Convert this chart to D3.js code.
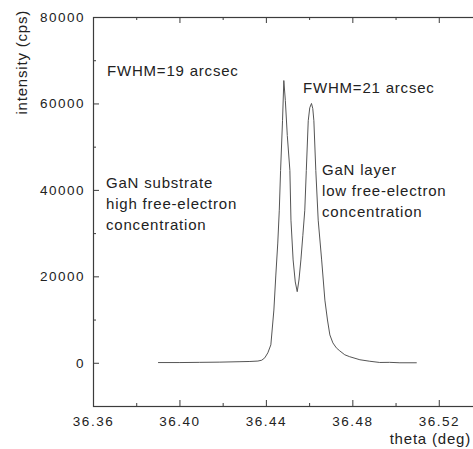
<!DOCTYPE html>
<html>
<head>
<meta charset="utf-8">
<script src="https://cdn.jsdelivr.net/npm/d3@7"></script>
<style>
  body { margin: 0; background: #fff; }
  text { font-family: Arial, "Liberation Sans", sans-serif; fill: #222; }
</style>
</head>
<body>
<div id="chart"></div>
<script>
// rocking curve
const theta = [36.3901, 36.4002, 36.4094, 36.4187, 36.4280, 36.4326, 36.4363, 36.4381, 36.4395, 36.4409,
  36.4423, 36.4437, 36.4446, 36.4455, 36.4462, 36.4468, 36.4477, 36.4483, 36.4490, 36.4499,
  36.4511, 36.4516, 36.4526, 36.4536, 36.4545, 36.4553, 36.4562, 36.4571, 36.4580, 36.4587,
  36.4596, 36.4603, 36.4611, 36.4617, 36.4622, 36.4631, 36.4642, 36.4658, 36.4673, 36.4685,
  36.4696, 36.4710, 36.4726, 36.4742, 36.4765, 36.4788, 36.4835, 36.4881, 36.4927, 36.4973,
  36.5020, 36.5098]
const intensity = [50, 50, 100, 150, 250, 300, 400, 600, 1150, 2300,
  4150, 12200, 20300, 27700, 35300, 44500, 56000, 65300, 60700, 52600,
  44500, 33000, 23800, 18700, 16450, 19150, 23800, 29500, 35300, 44500,
  56000, 59000, 60000, 58800, 56000, 44500, 33000, 23800, 14500, 9900,
  6450, 4600, 3450, 2750, 1850, 1400, 700, 350, 70, 100,
  0, 0]

const xMajor = [36.36, 36.40, 36.44, 36.48, 36.52]
const xMinor = [36.38, 36.42, 36.46, 36.50]
const yMajor = [0, 20000, 40000, 60000, 80000]
const yMinor = [10000, 30000, 50000, 70000]

const notes = [
  {lines: ['FWHM=19 arcsec'], x: 107, y: 76},
  {lines: ['FWHM=21 arcsec'], x: 303, y: 93},
  {lines: ['GaN substrate', 'high free-electron', 'concentration'], x: 106, y: 188},
  {lines: ['GaN layer', 'low free-electron', 'concentration'], x: 322, y: 175}
]

const W = 473, H = 449
const mLeft = 93, mTop = 17, mRight = 482, mBottom = 406
const axisColor = '#3c3c3c'

const svg = d3.select('#chart').append('svg')
  .attr('width', W)
  .attr('height', H)

const x = d3.scaleLinear().domain([36.36, 36.54]).range([mLeft, mRight])
const y = d3.scaleLinear().domain([-10000, 80000]).range([mBottom, mTop])

function styleAxis(g) {
  g.select('.domain').remove()
  g.selectAll('line').attr('stroke', axisColor)
  g.selectAll('text')
    .attr('font-size', '13.5px')
    .attr('letter-spacing', '1.5px')
    .attr('fill', '#222')
    .attr('font-family', 'Arial, "Liberation Sans", sans-serif')
}

// bottom axis (ticks pointing in)
svg.append('g')
  .attr('transform', `translate(0,${mBottom})`)
  .call(d3.axisBottom(x).tickValues(xMajor).tickFormat(d3.format('.2f')).tickSize(-6).tickPadding(10))
  .call(styleAxis)
svg.append('g')
  .attr('transform', `translate(0,${mBottom})`)
  .call(d3.axisBottom(x).tickValues(xMinor).tickFormat('').tickSize(-3))
  .call(styleAxis)

// top axis mirror
svg.append('g')
  .attr('transform', `translate(0,${mTop})`)
  .call(d3.axisTop(x).tickValues(xMajor).tickFormat('').tickSize(-6))
  .call(styleAxis)
svg.append('g')
  .attr('transform', `translate(0,${mTop})`)
  .call(d3.axisTop(x).tickValues(xMinor).tickFormat('').tickSize(-3))
  .call(styleAxis)

// left axis
svg.append('g')
  .attr('transform', `translate(${mLeft},0)`)
  .call(d3.axisLeft(y).tickValues(yMajor).tickFormat(d3.format('d')).tickSize(-6).tickPadding(8))
  .call(styleAxis)
svg.append('g')
  .attr('transform', `translate(${mLeft},0)`)
  .call(d3.axisLeft(y).tickValues(yMinor).tickFormat('').tickSize(-3))
  .call(styleAxis)

// frame
svg.append('rect')
  .attr('x', mLeft + 0.5)
  .attr('y', mTop + 0.5)
  .attr('width', mRight - mLeft)
  .attr('height', mBottom - mTop)
  .attr('fill', 'none')
  .attr('stroke', axisColor)
  .attr('stroke-width', 1.2)

// curve
const line = d3.line()
  .x((d, i) => x(theta[i]))
  .y((d) => y(d))

svg.append('path')
  .attr('d', line(intensity))
  .attr('fill', 'none')
  .attr('stroke', '#555')
  .attr('stroke-width', 1)

// axis titles
svg.append('text')
  .attr('transform', 'translate(27,10) rotate(-90)')
  .attr('text-anchor', 'end')
  .attr('font-size', '15px')
  .attr('letter-spacing', '0.8px')
  .text('intensity (cps)')

svg.append('text')
  .attr('x', 471)
  .attr('y', 444)
  .attr('text-anchor', 'end')
  .attr('font-size', '15px')
  .attr('letter-spacing', '0.8px')
  .text('theta (deg)')

// annotations
notes.forEach((n) => {
  const t = svg.append('text')
    .attr('x', n.x)
    .attr('y', n.y)
    .attr('font-size', '15px')
    .attr('letter-spacing', '0.8px')
  n.lines.forEach((s, i) => {
    t.append('tspan')
      .attr('x', n.x)
      .attr('dy', i === 0 ? 0 : 21)
      .text(s)
  })
})
</script>
</body>
</html>
